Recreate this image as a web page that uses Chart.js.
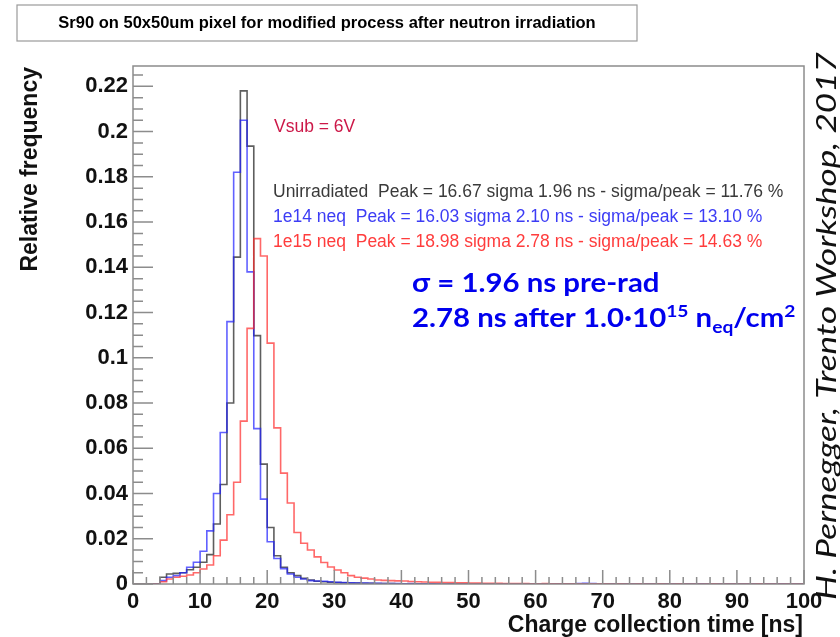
<!DOCTYPE html>
<html>
<head>
<meta charset="utf-8">
<script src="https://cdn.jsdelivr.net/npm/chart.js@4"></script>
<style>
  html, body { margin: 0; padding: 0; background: #fff; }
  #wrap { width: 840px; height: 637px; position: relative; }
</style>
</head>
<body>
<div id="wrap"><canvas id="ccChart"></canvas></div>
<script>
// histogram contents, one value per 1 ns bin starting at 0 ns
var binStart = 0;
var binWidth = 1;

var unirradiated = [
  0, 0, 0, 0, 0.003, 0.0044, 0.0047, 0.005, 0.0063, 0.0074,
  0.0096, 0.013, 0.0265, 0.044, 0.080, 0.1445, 0.218, 0.1936, 0.1098, 0.053,
  0.025, 0.0125, 0.0074, 0.005, 0.0037, 0.0025, 0.0018, 0.0012, 0.001, 0.0008,
  0.0006, 0.0005, 0.0004, 0.0004, 0.0003, 0.0003, 0.0002, 0.0002, 0.0002, 0.0001,
  0.0001, 0.0001, 0.0001, 0, 0.0001, 0, 0, 0.0001, 0, 0,
  0, 0, 0, 0, 0, 0, 0, 0, 0, 0,
  0, 0, 0, 0, 0, 0, 0, 0, 0, 0,
  0, 0, 0, 0, 0, 0, 0, 0, 0, 0,
  0, 0, 0, 0, 0, 0, 0, 0, 0, 0,
  0, 0, 0, 0, 0, 0, 0, 0, 0, 0
];

var neq1e14 = [
  0, 0, 0, 0, 0.0015, 0.003, 0.0037, 0.005, 0.0074, 0.0096,
  0.0145, 0.0235, 0.040, 0.067, 0.116, 0.182, 0.205, 0.138, 0.0687, 0.0375,
  0.0187, 0.0113, 0.0068, 0.0044, 0.003, 0.0022, 0.0015, 0.0013, 0.0012, 0.001,
  0.0008, 0.0006, 0.0005, 0.0004, 0.0004, 0.0003, 0.0003, 0.0002, 0.0002, 0.0002,
  0.0001, 0.0002, 0.0001, 0.0001, 0.0001, 0.0001, 0, 0.0001, 0, 0.0001,
  0, 0.0001, 0, 0, 0, 0.0001, 0, 0, 0, 0,
  0, 0, 0, 0.0001, 0, 0, 0.0002, 0.0003, 0.0002, 0,
  0, 0, 0, 0, 0, 0.0001, 0, 0, 0, 0,
  0, 0, 0, 0, 0.0001, 0, 0, 0, 0, 0,
  0, 0, 0, 0, 0, 0, 0.0001, 0, 0, 0
];

var neq1e15 = [
  0, 0, 0, 0, 0.001, 0.0022, 0.003, 0.0034, 0.004, 0.005,
  0.0066, 0.0084, 0.0125, 0.0194, 0.0306, 0.045, 0.072, 0.113, 0.1527, 0.145,
  0.1065, 0.069, 0.049, 0.0358, 0.0228, 0.018, 0.015, 0.012, 0.0095, 0.0075,
  0.0062, 0.005, 0.0037, 0.003, 0.0026, 0.0022, 0.0018, 0.0016, 0.0015, 0.0014,
  0.0013, 0.0011, 0.001, 0.0009, 0.0008, 0.0007, 0.0006, 0.0006, 0.0005, 0.0005,
  0.0004, 0.0004, 0.0003, 0.0003, 0.0003, 0.0002, 0.0002, 0.0002, 0.0002, 0.0001,
  0.0001, 0.0002, 0.0001, 0.0001, 0.0001, 0.0001, 0.0001, 0, 0.0001, 0.0001,
  0.0001, 0, 0.0001, 0, 0, 0.0001, 0, 0, 0.0001, 0,
  0, 0.0001, 0, 0, 0, 0, 0.0001, 0, 0, 0,
  0, 0, 0, 0.0001, 0, 0, 0, 0, 0, 0
];

var xTicks = [0, 10, 20, 30, 40, 50, 60, 70, 80, 90, 100];
var yTicks = [0, 0.02, 0.04, 0.06, 0.08, 0.1, 0.12, 0.14, 0.16, 0.18, 0.2, 0.22];
var xMinorStep = 2;
var yMinorStep = 0.005;

var titleText = 'Sr90 on 50x50um pixel for modified process after neutron irradiation';
var vsubText = 'Vsub = 6V';
var statLines = [
  'Unirradiated  Peak = 16.67 sigma 1.96 ns - sigma/peak = 11.76 %',
  '1e14 neq  Peak = 16.03 sigma 2.10 ns - sigma/peak = 13.10 %',
  '1e15 neq  Peak = 18.98 sigma 2.78 ns - sigma/peak = 14.63 %'
];
var statColors = ['#3a3a3a', '#3c3cf5', '#ff3c3c'];
var creditText = 'H. Pernegger, Trento Workshop, 2017';

// turn bin contents into step points (last bin closed at its upper edge)
function toSteps(vals) {
  var pts = vals.map(function (v, i) { return { x: binStart + i * binWidth, y: v }; });
  pts.push({ x: binStart + vals.length * binWidth, y: vals[vals.length - 1] });
  return pts;
}

var rootStyle = {
  id: 'rootStyle',
  afterDatasetsDraw: function (chart) {
    var ctx = chart.ctx;
    var a = chart.chartArea;
    var xs = chart.scales.x, ys = chart.scales.y;
    ctx.save();

    // frame
    ctx.strokeStyle = '#8c8c8c';
    ctx.lineWidth = 1.5;
    ctx.strokeRect(a.left, a.top, a.right - a.left, a.bottom - a.top);

    // ticks inside the frame
    ctx.lineWidth = 1.5;
    ctx.beginPath();
    for (var xv = xs.min; xv <= xs.max + 1e-9; xv += xMinorStep) {
      var px = xs.getPixelForValue(xv);
      var len = (Math.round(xv) % 10 === 0) ? 14 : 7;
      ctx.moveTo(px, a.bottom);
      ctx.lineTo(px, a.bottom - len);
    }
    for (var k = 0; k * yMinorStep <= ys.max; k++) {
      var yv = k * yMinorStep;
      var py = ys.getPixelForValue(yv);
      var ylen = (k % 4 === 0) ? 20 : 10;
      ctx.moveTo(a.left, py);
      ctx.lineTo(a.left + ylen, py);
    }
    ctx.stroke();

    // title box
    ctx.fillStyle = '#fff';
    ctx.fillRect(17, 5, 620, 36);
    ctx.strokeStyle = '#9a9a9a';
    ctx.lineWidth = 1.2;
    ctx.strokeRect(17, 5, 620, 36);
    ctx.fillStyle = '#000';
    ctx.font = 'bold 16.5px "Liberation Sans", Arial, sans-serif';
    ctx.textAlign = 'center';
    ctx.textBaseline = 'middle';
    ctx.fillText(titleText, 327, 23);

    // axis titles
    ctx.font = 'bold 23px "Liberation Sans", Arial, sans-serif';
    ctx.fillStyle = '#111';
    ctx.textAlign = 'right';
    ctx.fillText('Charge collection time [ns]', 803, 626);
    ctx.save();
    ctx.translate(31, 67);
    ctx.rotate(-Math.PI / 2);
    ctx.textAlign = 'right';
    ctx.fillText('Relative frequency', 0, 0);
    ctx.restore();

    // annotations
    ctx.textAlign = 'left';
    ctx.font = '17.5px "Liberation Sans", Arial, sans-serif';
    ctx.fillStyle = '#cc1848';
    ctx.fillText(vsubText, 274, 127);
    statLines.forEach(function (s, i) {
      ctx.fillStyle = statColors[i];
      ctx.fillText(s, 273, 192 + i * 25);
    });

    // blue summary (slightly widened, like the slide)
    ctx.save();
    ctx.translate(412, 0);
    ctx.scale(1.13, 1);
    ctx.fillStyle = '#0000ee';
    ctx.textBaseline = 'alphabetic';
    var big = 'bold 26px Lato, "Open Sans", sans-serif';
    var small = 'bold 17px Lato, "Open Sans", sans-serif';
    ctx.font = big;
    ctx.fillText('\u03c3 = 1.96 ns pre-rad', 0, 292);
    var parts = [
      ['2.78 ns after 1.0\u00b710', big, 0],
      ['15', small, -10],
      [' n', big, 0],
      ['eq', small, 6],
      ['/cm', big, 0],
      ['2', small, -10]
    ];
    var cx = 0;
    parts.forEach(function (p) {
      ctx.font = p[1];
      ctx.fillText(p[0], cx, 327 + p[2]);
      cx += ctx.measureText(p[0]).width;
    });
    ctx.restore();

    // credit
    ctx.save();
    ctx.translate(836, 600);
    ctx.rotate(-Math.PI / 2);
    ctx.scale(1.3, 1);
    ctx.font = 'italic 27px Lato, "Open Sans", sans-serif';
    ctx.fillStyle = '#111';
    ctx.textAlign = 'left';
    ctx.textBaseline = 'alphabetic';
    ctx.fillText(creditText, 0, 0);
    ctx.restore();

    ctx.restore();
  }
};

var tickFont = { family: '"Liberation Sans", Arial, sans-serif', size: 22, weight: 'bold' };

new Chart(document.getElementById('ccChart'), {
  type: 'line',
  data: {
    datasets: [
      { label: 'Unirradiated', data: toSteps(unirradiated), borderColor: 'rgba(40,40,40,0.75)', order: 3 },
      { label: '1e14 neq', data: toSteps(neq1e14), borderColor: 'rgba(30,30,255,0.7)', order: 2 },
      { label: '1e15 neq', data: toSteps(neq1e15), borderColor: 'rgba(255,40,40,0.7)', order: 1 }
    ]
  },
  options: {
    responsive: true,
    maintainAspectRatio: false,
    animation: false,
    layout: { padding: { top: 66, right: 36, left: 0, bottom: 0 } },
    elements: {
      line: { stepped: 'before', borderWidth: 1.6, tension: 0, fill: false },
      point: { radius: 0 }
    },
    plugins: { legend: { display: false }, tooltip: { enabled: false } },
    scales: {
      x: {
        type: 'linear',
        min: 0,
        max: 100,
        grid: { display: false, drawTicks: false },
        border: { display: false },
        afterBuildTicks: function (s) { s.ticks = xTicks.map(function (v) { return { value: v }; }); },
        afterFit: function (s) { s.height = 53; },
        ticks: { color: '#111', font: tickFont, padding: 5, maxRotation: 0, autoSkip: false,
                 callback: function (v) { return String(v); } }
      },
      y: {
        min: 0,
        max: 0.229,
        grid: { display: false, drawTicks: false },
        border: { display: false },
        afterBuildTicks: function (s) { s.ticks = yTicks.map(function (v) { return { value: v }; }); },
        afterFit: function (s) { s.width = 133; },
        ticks: { color: '#111', font: tickFont, padding: 5,
                 callback: function (v) { return String(v); } }
      }
    }
  },
  plugins: [rootStyle]
});
</script>
</body>
</html>
